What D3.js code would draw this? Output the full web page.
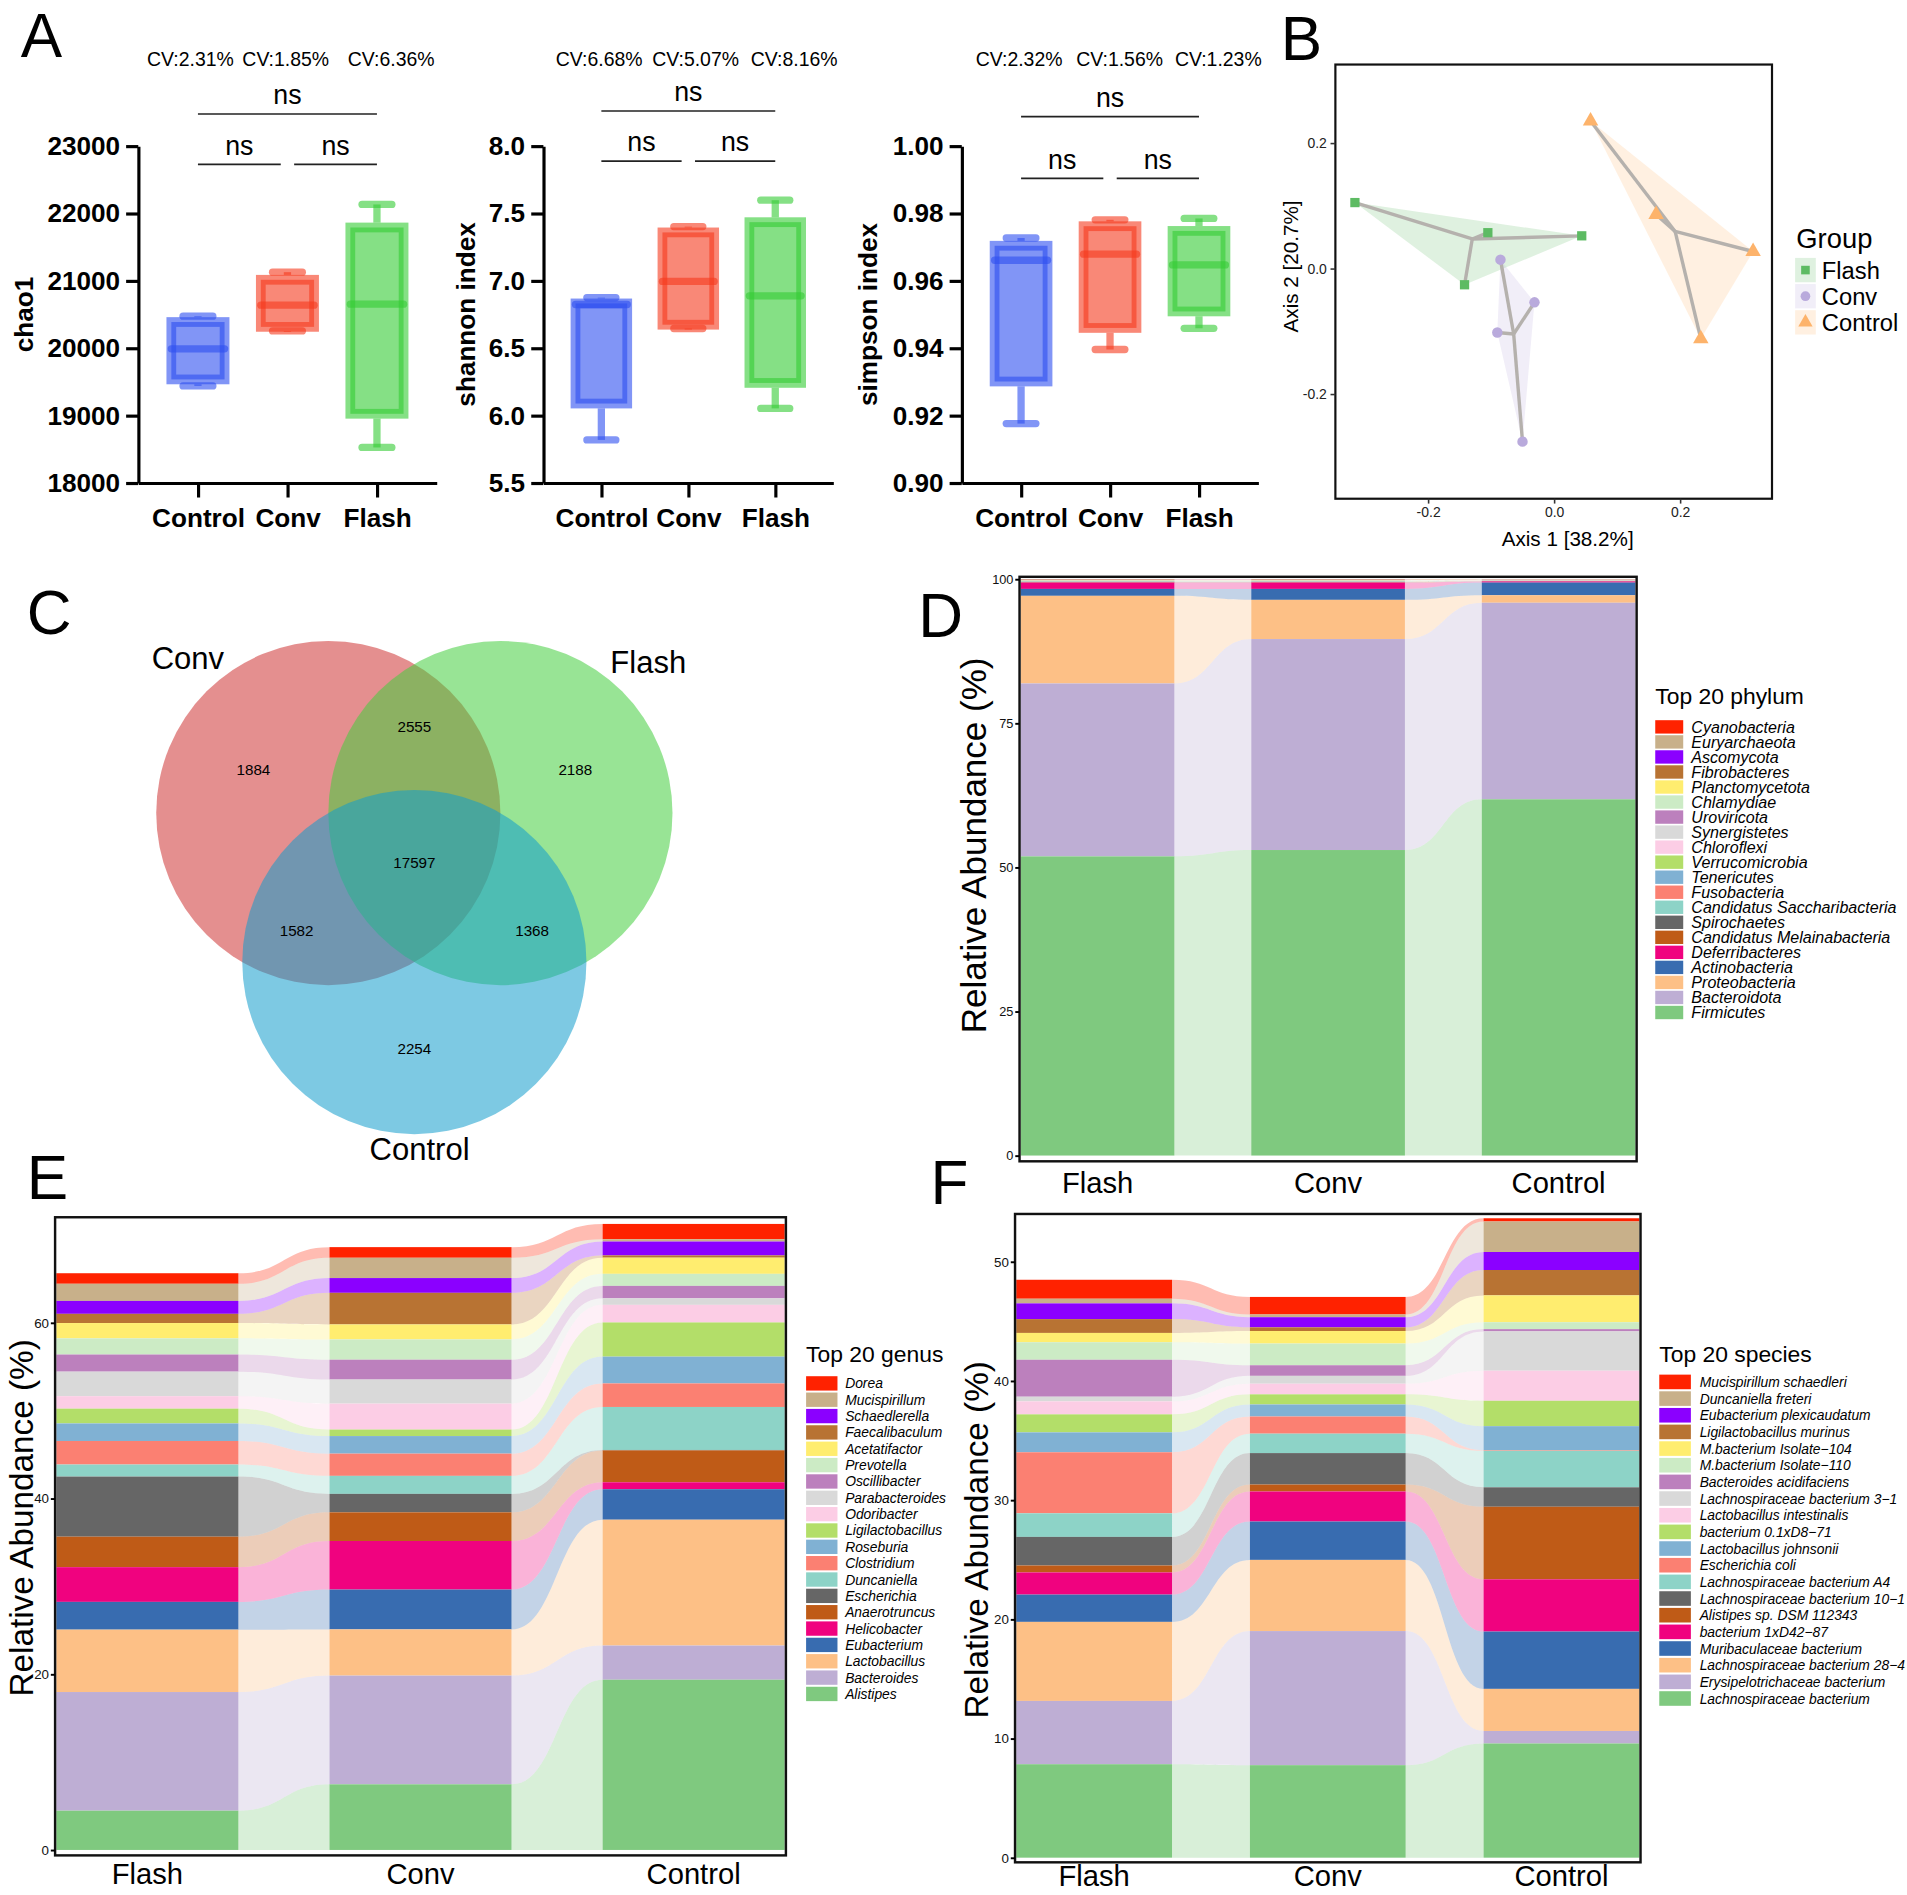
<!DOCTYPE html>
<html>
<head>
<meta charset="utf-8">
<script src="https://cdn.jsdelivr.net/npm/d3@7"></script>
<style>
  html, body { margin: 0; padding: 0; background: #fff; }
  svg { display: block; font-family: "Liberation Sans", Arial, Helvetica, sans-serif; }
</style>
</head>
<body>
<svg id="fig" width="1907" height="1895" viewBox="0 0 1568 1558"></svg>
<script>
// ---------------- data ----------------
const groups = ['Control', 'Conv', 'Flash'];

// box stats per group: [min, q1, median, q3, max]
const chao1Stats = [[19439, 19536, 19990, 20388, 20474], [20255, 20316, 20638, 21015, 21128], [18526, 19026, 20653, 21791, 22133]];
const shannonStats = [[5.819, 6.089, 6.824, 6.832, 6.875], [6.646, 6.674, 6.995, 7.359, 7.402], [6.053, 6.242, 6.888, 7.435, 7.598]];
const simpsonStats = [[0.9176, 0.9301, 0.9661, 0.9704, 0.9727], [0.9396, 0.9460, 0.9679, 0.9762, 0.9781], [0.9459, 0.9509, 0.9647, 0.9748, 0.9785]];
const chao1CV = ['CV:2.31%', 'CV:1.85%', 'CV:6.36%'];
const shannonCV = ['CV:6.68%', 'CV:5.07%', 'CV:8.16%'];
const simpsonCV = ['CV:2.32%', 'CV:1.56%', 'CV:1.23%'];
const chao1Ticks = [18000, 19000, 20000, 21000, 22000, 23000];
const shannonTicks = [5.5, 6.0, 6.5, 7.0, 7.5, 8.0];
const simpsonTicks = [0.90, 0.92, 0.94, 0.96, 0.98, 1.00];

// PCoA coordinates
const pcoaGroups = ['Flash', 'Conv', 'Control'];
const flashAxis1 = [-0.316, -0.105, 0.044, -0.142];
const flashAxis2 = [0.105, 0.057, 0.052, -0.026];
const convAxis1 = [-0.085, -0.031, -0.090, -0.050];
const convAxis2 = [0.014, -0.054, -0.102, -0.276];
const controlAxis1 = [0.058, 0.162, 0.316, 0.233];
const controlAxis2 = [0.235, 0.086, 0.027, -0.112];
const pcoaTicks = [-0.2, 0.0, 0.2];

// Venn counts
const vennSets = ['Conv', 'Flash', 'Control'];
const vennUnique = [1884, 2188, 2254];
const vennPairs = [2555, 1582, 1368]; // Conv&Flash, Conv&Control, Flash&Control
const vennAll = 17597;

// stacked abundances (legend order, top to bottom)
const samples = ['Flash', 'Conv', 'Control'];
const phylum = ['Cyanobacteria', 'Euryarchaeota', 'Ascomycota', 'Fibrobacteres', 'Planctomycetota', 'Chlamydiae',
  'Uroviricota', 'Synergistetes', 'Chloroflexi', 'Verrucomicrobia', 'Tenericutes', 'Fusobacteria',
  'Candidatus Saccharibacteria', 'Spirochaetes', 'Candidatus Melainabacteria', 'Deferribacteres',
  'Actinobacteria', 'Proteobacteria', 'Bacteroidota', 'Firmicutes'];
const phylumFlash = [0.03, 0.04, 0.02, 0.06, 0.03, 0.02, 0.03, 0.02, 0.03, 0.08, 0.05, 0.03, 0.05, 0.05, 0.06, 1.1, 1.2, 15.2, 30.0, 51.9];
const phylumConv = [0.03, 0.04, 0.02, 0.06, 0.03, 0.02, 0.03, 0.02, 0.03, 0.08, 0.05, 0.03, 0.05, 0.05, 0.06, 1.1, 1.9, 6.8, 36.6, 53.0];
const phylumControl = [0.02, 0.02, 0.02, 0.03, 0.02, 0.02, 0.02, 0.02, 0.04, 0.04, 0.03, 0.02, 0.03, 0.02, 0.03, 0.2, 2.2, 1.3, 34.1, 61.8];

const genus = ['Dorea', 'Mucispirillum', 'Schaedlerella', 'Faecalibaculum', 'Acetatifactor', 'Prevotella',
  'Oscillibacter', 'Parabacteroides', 'Odoribacter', 'Ligilactobacillus', 'Roseburia', 'Clostridium',
  'Duncaniella', 'Escherichia', 'Anaerotruncus', 'Helicobacter', 'Eubacterium', 'Lactobacillus',
  'Bacteroides', 'Alistipes'];
const genusFlash = [1.2, 1.95, 1.47, 1.05, 1.74, 1.84, 1.95, 2.79, 1.42, 1.68, 2.0, 2.68, 1.37, 6.84, 3.47, 3.95, 3.16, 7.1, 13.5, 4.47];
const genusConv = [1.21, 2.31, 1.68, 3.6, 1.7, 2.31, 2.26, 2.74, 2.95, 0.74, 2.0, 2.53, 2.05, 2.1, 3.26, 5.53, 4.53, 5.26, 12.37, 7.47];
const genusControl = [1.74, 0.26, 1.58, 0.26, 1.84, 1.37, 1.42, 0.74, 2.0, 3.89, 3.05, 2.68, 4.89, 0.05, 3.63, 0.79, 3.47, 14.32, 3.89, 19.37];

const species = ['Mucispirillum schaedleri', 'Duncaniella freteri', 'Eubacterium plexicaudatum',
  'Ligilactobacillus murinus', 'M.bacterium Isolate\u2212104', 'M.bacterium Isolate\u2212110',
  'Bacteroides acidifaciens', 'Lachnospiraceae bacterium 3\u22121', 'Lactobacillus intestinalis',
  'bacterium 0.1xD8\u221271', 'Lactobacillus johnsonii', 'Escherichia coli',
  'Lachnospiraceae bacterium A4', 'Lachnospiraceae bacterium 10\u22121', 'Alistipes sp. DSM 112343',
  'bacterium 1xD42\u221287', 'Muribaculaceae bacterium', 'Lachnospiraceae bacterium 28\u22124',
  'Erysipelotrichaceae bacterium', 'Lachnospiraceae bacterium'];
const speciesFlash = [1.59, 0.39, 1.32, 1.16, 0.78, 1.47, 3.1, 0.39, 1.09, 1.51, 1.67, 5.12, 1.98, 2.4, 0.58, 1.86, 2.29, 6.63, 5.31, 7.84];
const speciesConv = [1.47, 0.23, 0.85, 0.31, 1.05, 1.82, 0.89, 0.66, 0.89, 0.85, 1.01, 1.44, 1.63, 2.64, 0.58, 2.52, 3.22, 5.97, 11.25, 7.76];
const speciesControl = [0.27, 2.56, 1.51, 2.13, 2.25, 0.58, 0.19, 3.3, 2.52, 2.13, 2.02, 0.05, 3.06, 1.63, 6.09, 4.38, 4.81, 3.53, 1.05, 9.58];

// ---------------- styles ----------------
const palette = ['#ff2200', '#c8b08a', '#8b00ff', '#b87333', '#ffed6f', '#ccebc5', '#bc80bd', '#d9d9d9',
  '#fccde5', '#b3de69', '#80b1d3', '#fb8072', '#8dd3c7', '#666666', '#bf5b17', '#f0027f',
  '#386cb0', '#fdc086', '#beaed4', '#7fc97f'];
const boxColors = { Control: '#2d4ff0', Conv: '#f5381c', Flash: '#33cc33' };
const pcoaColors = { Flash: '#5dbb63', Conv: '#b9aadc', Control: '#fdb36b' };
const pcoaShapes = { Flash: d3.symbolSquare, Conv: d3.symbolCircle, Control: d3.symbolTriangle };
const vennColors = ['#ce3333', '#44ce3e', '#139dcc'];

const svg = d3.select('#fig');

function panelLetter(letter, x, y) {
  svg.append('text').attr('x', x).attr('y', y).attr('font-size', 51).text(letter);
}

// ---------------- A: box plots ----------------
function drawBoxPlot(cfg) {
  const g = svg.append('g');
  const y = d3.scaleLinear().domain(cfg.domain).range([cfg.yBot, cfg.yTop]);
  const x = d3.scalePoint().domain(groups).range([cfg.x0, cfg.x1]).padding(2 / 3);
  const bw = x.step() * 0.595;
  const capHalf = bw * 0.28;

  const ya = g.append('g').attr('transform', `translate(${cfg.x0},0)`)
    .call(d3.axisLeft(y).tickValues(cfg.ticks).tickFormat(cfg.fmt).tickSize(10).tickSizeOuter(0).tickPadding(5));
  const xa = g.append('g').attr('transform', `translate(0,${cfg.yBot})`)
    .call(d3.axisBottom(x).tickSize(12).tickSizeOuter(0).tickPadding(6));
  [ya, xa].forEach((a) => {
    a.attr('font-family', null).attr('font-size', null);
    a.select('.domain').attr('stroke-width', 2.6);
    a.selectAll('.tick line').attr('stroke-width', 2.6);
    a.selectAll('.tick text').attr('font-size', 21.5).attr('font-weight', 'bold').attr('fill', '#000');
  });
  xa.selectAll('.tick text').attr('dy', '0.85em');

  const data = cfg.stats.map((s, i) => ({ g: groups[i], min: s[0], q1: s[1], med: s[2], q3: s[3], max: s[4] }));
  const boxes = g.selectAll('.box').data(data).enter().append('g').attr('class', 'box');

  boxes.append('rect')
    .attr('x', (d) => x(d.g) - bw / 2)
    .attr('y', (d) => y(d.q3))
    .attr('width', bw)
    .attr('height', (d) => y(d.q1) - y(d.q3))
    .attr('fill', (d) => boxColors[d.g]).attr('fill-opacity', 0.6)
    .attr('stroke', (d) => boxColors[d.g]).attr('stroke-opacity', 0.6).attr('stroke-width', 8);

  boxes.append('line')
    .attr('x1', (d) => x(d.g) - bw / 2).attr('x2', (d) => x(d.g) + bw / 2)
    .attr('y1', (d) => y(d.med)).attr('y2', (d) => y(d.med))
    .attr('stroke', (d) => boxColors[d.g]).attr('stroke-opacity', 0.6)
    .attr('stroke-width', 6).attr('stroke-linecap', 'round');

  [['q3', 'max'], ['q1', 'min']].forEach(([from, to]) => {
    boxes.append('line')
      .attr('x1', (d) => x(d.g)).attr('x2', (d) => x(d.g))
      .attr('y1', (d) => y(d[from]) + (from === 'q3' ? -4 : 4)).attr('y2', (d) => y(d[to]))
      .attr('stroke', (d) => boxColors[d.g]).attr('stroke-opacity', 0.6).attr('stroke-width', 6);
    boxes.append('line')
      .attr('x1', (d) => x(d.g) - capHalf).attr('x2', (d) => x(d.g) + capHalf)
      .attr('y1', (d) => y(d[to])).attr('y2', (d) => y(d[to]))
      .attr('stroke', (d) => boxColors[d.g]).attr('stroke-opacity', 0.6)
      .attr('stroke-width', 6).attr('stroke-linecap', 'round');
  });

  // significance brackets
  const gap = 5.5;
  const brackets = [
    { x1: x('Control'), x2: x('Conv') - gap, v: cfg.brLow },
    { x1: x('Conv') + gap, x2: x('Flash'), v: cfg.brLow },
    { x1: x('Control'), x2: x('Flash'), v: cfg.brTop },
  ];
  brackets.forEach((b) => {
    g.append('line').attr('x1', b.x1).attr('x2', b.x2).attr('y1', y(b.v)).attr('y2', y(b.v))
      .attr('stroke', '#222').attr('stroke-width', 1.4);
    g.append('text').attr('x', (b.x1 + b.x2) / 2).attr('y', y(b.v) - 8)
      .attr('text-anchor', 'middle').attr('font-size', 22).text('ns');
  });

  cfg.cv.forEach((t, i) => {
    g.append('text').attr('x', x(groups[i]) + cfg.cvDx[i]).attr('y', 54)
      .attr('text-anchor', 'middle').attr('font-size', 16).text(t);
  });

  g.append('text')
    .attr('transform', `translate(${cfg.titleX},${(cfg.yTop + cfg.yBot) / 2}) rotate(-90)`)
    .attr('text-anchor', 'middle').attr('font-size', 21.5).attr('font-weight', 'bold').text(cfg.title);
}

panelLetter('A', 17, 47);
drawBoxPlot({ x0: 113.7, x1: 359, yTop: 120, yBot: 397, domain: [18000, 23000], ticks: chao1Ticks,
  fmt: d3.format('d'), stats: chao1Stats, cv: chao1CV, cvDx: [-6.2, -1.4, 11.7],
  brLow: 22729, brTop: 23475, title: 'chao1', titleX: 27.4 });
drawBoxPlot({ x0: 446.8, x1: 685.1, yTop: 120, yBot: 397, domain: [5.5, 8.0], ticks: shannonTicks,
  fmt: d3.format('.1f'), stats: shannonStats, cv: shannonCV, cvDx: [-1.8, 6.0, 15.6],
  brLow: 7.888, brTop: 8.26, title: 'shannon index', titleX: 390.4 });
drawBoxPlot({ x0: 790.8, x1: 1034.6, yTop: 120, yBot: 397, domain: [0.90, 1.00], ticks: simpsonTicks,
  fmt: d3.format('.2f'), stats: simpsonStats, cv: simpsonCV, cvDx: [-1.6, 7.9, 15.9],
  brLow: 0.9904, brTop: 1.0087, title: 'simpson index', titleX: 721 });

// ---------------- B: PCoA ----------------
(function drawPcoa() {
  const box = { left: 1098, right: 1457, top: 53, bottom: 410 };
  const x = d3.scaleLinear().domain([-0.347, 0.346]).range([box.left, box.right]);
  const y = d3.scaleLinear().domain([-0.367, 0.325]).range([box.bottom, box.top]);
  const g = svg.append('g');
  const pts = {
    Flash: d3.zip(flashAxis1, flashAxis2),
    Conv: d3.zip(convAxis1, convAxis2),
    Control: d3.zip(controlAxis1, controlAxis2),
  };

  pcoaGroups.forEach((k) => {
    const hull = d3.polygonHull(pts[k].map((p) => [x(p[0]), y(p[1])]));
    g.append('path').attr('d', 'M' + hull.join('L') + 'Z')
      .attr('fill', pcoaColors[k]).attr('fill-opacity', 0.2);
  });
  pcoaGroups.forEach((k) => {
    const cx = d3.mean(pts[k], (p) => p[0]);
    const cy = d3.mean(pts[k], (p) => p[1]);
    pts[k].forEach((p) => {
      g.append('line').attr('x1', x(cx)).attr('y1', y(cy)).attr('x2', x(p[0])).attr('y2', y(p[1]))
        .attr('stroke', '#b5b1ad').attr('stroke-width', 2.8);
    });
  });
  pcoaGroups.forEach((k) => {
    g.selectAll(null).data(pts[k]).enter().append('path')
      .attr('transform', (p) => `translate(${x(p[0])},${y(p[1])})`)
      .attr('d', d3.symbol().type(pcoaShapes[k]).size(k === 'Control' ? 70 : 58))
      .attr('fill', pcoaColors[k]);
  });

  g.append('rect').attr('x', box.left).attr('y', box.top)
    .attr('width', box.right - box.left).attr('height', box.bottom - box.top)
    .attr('fill', 'none').attr('stroke', '#111').attr('stroke-width', 1.8);

  const fmt = (d) => d.toFixed(1);
  const xa = g.append('g').attr('transform', `translate(0,${box.bottom})`)
    .call(d3.axisBottom(x).tickValues(pcoaTicks).tickFormat(fmt).tickSize(4).tickSizeOuter(0).tickPadding(3));
  const ya = g.append('g').attr('transform', `translate(${box.left},0)`)
    .call(d3.axisLeft(y).tickValues(pcoaTicks).tickFormat(fmt).tickSize(4).tickSizeOuter(0).tickPadding(3));
  [xa, ya].forEach((a) => {
    a.attr('font-family', null);
    a.select('.domain').remove();
    a.selectAll('.tick line').attr('stroke', '#333').attr('stroke-width', 1.3);
    a.selectAll('.tick text').attr('font-size', 11.5).attr('fill', '#222');
  });

  g.append('text').attr('x', 1289).attr('y', 449).attr('text-anchor', 'middle')
    .attr('font-size', 17).text('Axis 1 [38.2%]');
  g.append('text').attr('transform', `translate(1067,219) rotate(-90)`).attr('text-anchor', 'middle')
    .attr('font-size', 17).text('Axis 2 [20.7%]');

  // legend
  g.append('text').attr('x', 1477).attr('y', 204).attr('font-size', 22.5).text('Group');
  pcoaGroups.forEach((k, i) => {
    const cy = 222 + i * 21.5;
    g.append('rect').attr('x', 1476).attr('y', cy - 10).attr('width', 17).attr('height', 20)
      .attr('fill', pcoaColors[k]).attr('fill-opacity', 0.2);
    g.append('path').attr('transform', `translate(1484.5,${cy})`)
      .attr('d', d3.symbol().type(pcoaShapes[k]).size(k === 'Control' ? 60 : 50))
      .attr('fill', pcoaColors[k]);
    g.append('text').attr('x', 1498).attr('y', cy).attr('dy', '0.36em').attr('font-size', 19.5).text(k);
  });
})();
panelLetter('B', 1053, 49);

// ---------------- C: Venn ----------------
(function drawVenn() {
  const g = svg.append('g');
  const centre = [340.7, 709.3];
  const r = 141.5;
  const angles = [-150, -30, 90].map((a) => (a * Math.PI) / 180);
  const dirs = angles.map((a) => [Math.cos(a), Math.sin(a)]);
  const d0 = r / Math.sqrt(3);

  g.selectAll('circle').data(vennSets).enter().append('circle')
    .attr('cx', (d, i) => centre[0] + d0 * dirs[i][0])
    .attr('cy', (d, i) => centre[1] + d0 * dirs[i][1])
    .attr('r', r)
    .attr('fill', (d, i) => vennColors[i]).attr('fill-opacity', 0.55);

  const labels = [];
  vennUnique.forEach((v, i) => labels.push({ v, p: [centre[0] + 1.08 * r * dirs[i][0], centre[1] + 1.08 * r * dirs[i][1]] }));
  // pairs sit opposite to the excluded set
  const excluded = [2, 1, 0];
  vennPairs.forEach((v, i) => {
    const d = dirs[excluded[i]];
    labels.push({ v, p: [centre[0] - 0.79 * r * d[0], centre[1] - 0.79 * r * d[1]] });
  });
  labels.push({ v: vennAll, p: centre });

  g.selectAll('text.num').data(labels).enter().append('text').attr('class', 'num')
    .attr('x', (d) => d.p[0]).attr('y', (d) => d.p[1]).attr('dy', '0.35em')
    .attr('text-anchor', 'middle').attr('font-size', 12.5).text((d) => d.v);

  const setLabelPos = [[154.5, 550], [533, 553], [345, 954]];
  vennSets.forEach((s, i) => {
    g.append('text').attr('x', setLabelPos[i][0]).attr('y', setLabelPos[i][1])
      .attr('text-anchor', 'middle').attr('font-size', 25.5).text(s);
  });
})();
panelLetter('C', 22, 521);

// ---------------- D/E/F: alluvial stacked bars ----------------
function drawAlluvial(cfg) {
  const g = svg.append('g');
  const x = d3.scaleBand().domain(samples).range([cfg.left + 1, cfg.right - 1]).paddingInner(1 / 3).paddingOuter(0);
  const y = d3.scaleLinear().domain(cfg.domain).range([cfg.bottom, cfg.top]);
  const n = cfg.cats.length;
  const bw = x.bandwidth();

  const stacks = cfg.series.map((vals) => {
    let cum = 0;
    const out = new Array(n);
    for (let i = n - 1; i >= 0; i--) {
      out[i] = [cum, cum + vals[i]];
      cum += vals[i];
    }
    return out;
  });

  // flows
  for (let s = 0; s < samples.length - 1; s++) {
    const xa = x(samples[s]) + bw;
    const xb = x(samples[s + 1]);
    const xm = (xa + xb) / 2;
    for (let i = n - 1; i >= 0; i--) {
      const a = stacks[s][i];
      const b = stacks[s + 1][i];
      const p = d3.path();
      p.moveTo(xa, y(a[1]));
      p.bezierCurveTo(xm, y(a[1]), xm, y(b[1]), xb, y(b[1]));
      p.lineTo(xb, y(b[0]));
      p.bezierCurveTo(xm, y(b[0]), xm, y(a[0]), xa, y(a[0]));
      p.closePath();
      g.append('path').attr('d', p.toString()).attr('fill', palette[i]).attr('fill-opacity', 0.3);
    }
  }

  // strata
  samples.forEach((smp, s) => {
    g.selectAll(null).data(stacks[s]).enter().append('rect')
      .attr('x', x(smp)).attr('width', bw)
      .attr('y', (d) => y(d[1])).attr('height', (d) => y(d[0]) - y(d[1]))
      .attr('fill', (d, i) => palette[i]);
  });

  g.append('rect').attr('x', cfg.left).attr('y', cfg.top)
    .attr('width', cfg.right - cfg.left).attr('height', cfg.bottom - cfg.top)
    .attr('fill', 'none').attr('stroke', '#111').attr('stroke-width', 2);

  const ya = g.append('g').attr('transform', `translate(${cfg.left},0)`)
    .call(d3.axisLeft(y).tickValues(cfg.ticks).tickSize(3.5).tickSizeOuter(0).tickPadding(1.5));
  ya.attr('font-family', null);
  ya.select('.domain').remove();
  ya.selectAll('.tick line').attr('stroke-width', 1.6);
  ya.selectAll('.tick text').attr('font-size', cfg.tickSize).attr('fill', '#111');

  samples.forEach((smp) => {
    g.append('text').attr('x', x(smp) + bw / 2).attr('y', cfg.labelY)
      .attr('text-anchor', 'middle').attr('font-size', 24).text(smp);
  });

  g.append('text').attr('transform', `translate(${cfg.titleX},${cfg.titleY}) rotate(-90)`)
    .attr('text-anchor', 'middle').attr('font-size', cfg.titleSize).text('Relative Abundance (%)');

  // legend
  const L = cfg.legend;
  g.append('text').attr('x', L.x).attr('y', L.titleY).attr('font-size', 18.8).text(L.title);
  const items = g.selectAll('g.item').data(cfg.cats).enter().append('g').attr('class', 'item')
    .attr('transform', (d, i) => `translate(0,${L.firstY + i * L.pitch})`);
  items.append('rect').attr('x', L.x).attr('y', -L.sh / 2).attr('width', L.sw).attr('height', L.sh)
    .attr('fill', (d, i) => palette[i]);
  items.append('text').attr('x', L.textX).attr('y', 0).attr('dy', '0.36em')
    .attr('font-size', L.fs).attr('font-style', 'italic').text((d) => d);
}

drawAlluvial({
  left: 838.3, right: 1345.7, top: 474.2, bottom: 954.8, domain: [-1.0, 100.4],
  ticks: [0, 25, 50, 75, 100], tickSize: 10.5,
  cats: phylum, series: [phylumFlash, phylumConv, phylumControl],
  labelY: 981, titleX: 811, titleY: 695, titleSize: 28.8,
  legend: { x: 1361, textX: 1390.7, titleY: 578.4, firstY: 597.6, pitch: 12.36, sw: 23, sh: 11, fs: 13.2, title: 'Top 20 phylum' },
});
panelLetter('D', 755, 524);

drawAlluvial({
  left: 45.3, right: 646.2, top: 1000.8, bottom: 1525.5, domain: [-0.62, 72.0],
  ticks: [0, 20, 40, 60], tickSize: 11,
  cats: genus, series: [genusFlash, genusConv, genusControl],
  labelY: 1549, titleX: 27.3, titleY: 1248, titleSize: 27.4,
  legend: { x: 662.8, textX: 694.9, titleY: 1119.8, firstY: 1137.4, pitch: 13.44, sw: 25.8, sh: 11.8, fs: 11.4, title: 'Top 20 genus' },
});
panelLetter('E', 22, 986);

drawAlluvial({
  left: 834.6, right: 1348.9, top: 998.1, bottom: 1531.2, domain: [-0.39, 54.0],
  ticks: [0, 10, 20, 30, 40, 50], tickSize: 11,
  cats: species, series: [speciesFlash, speciesConv, speciesControl],
  labelY: 1551, titleX: 812.7, titleY: 1266, titleSize: 27.4,
  legend: { x: 1364.3, textX: 1397.5, titleY: 1119.8, firstY: 1136.2, pitch: 13.7, sw: 26, sh: 12, fs: 11.4, title: 'Top 20 species' },
});
panelLetter('F', 765, 990);
</script>
</body>
</html>
